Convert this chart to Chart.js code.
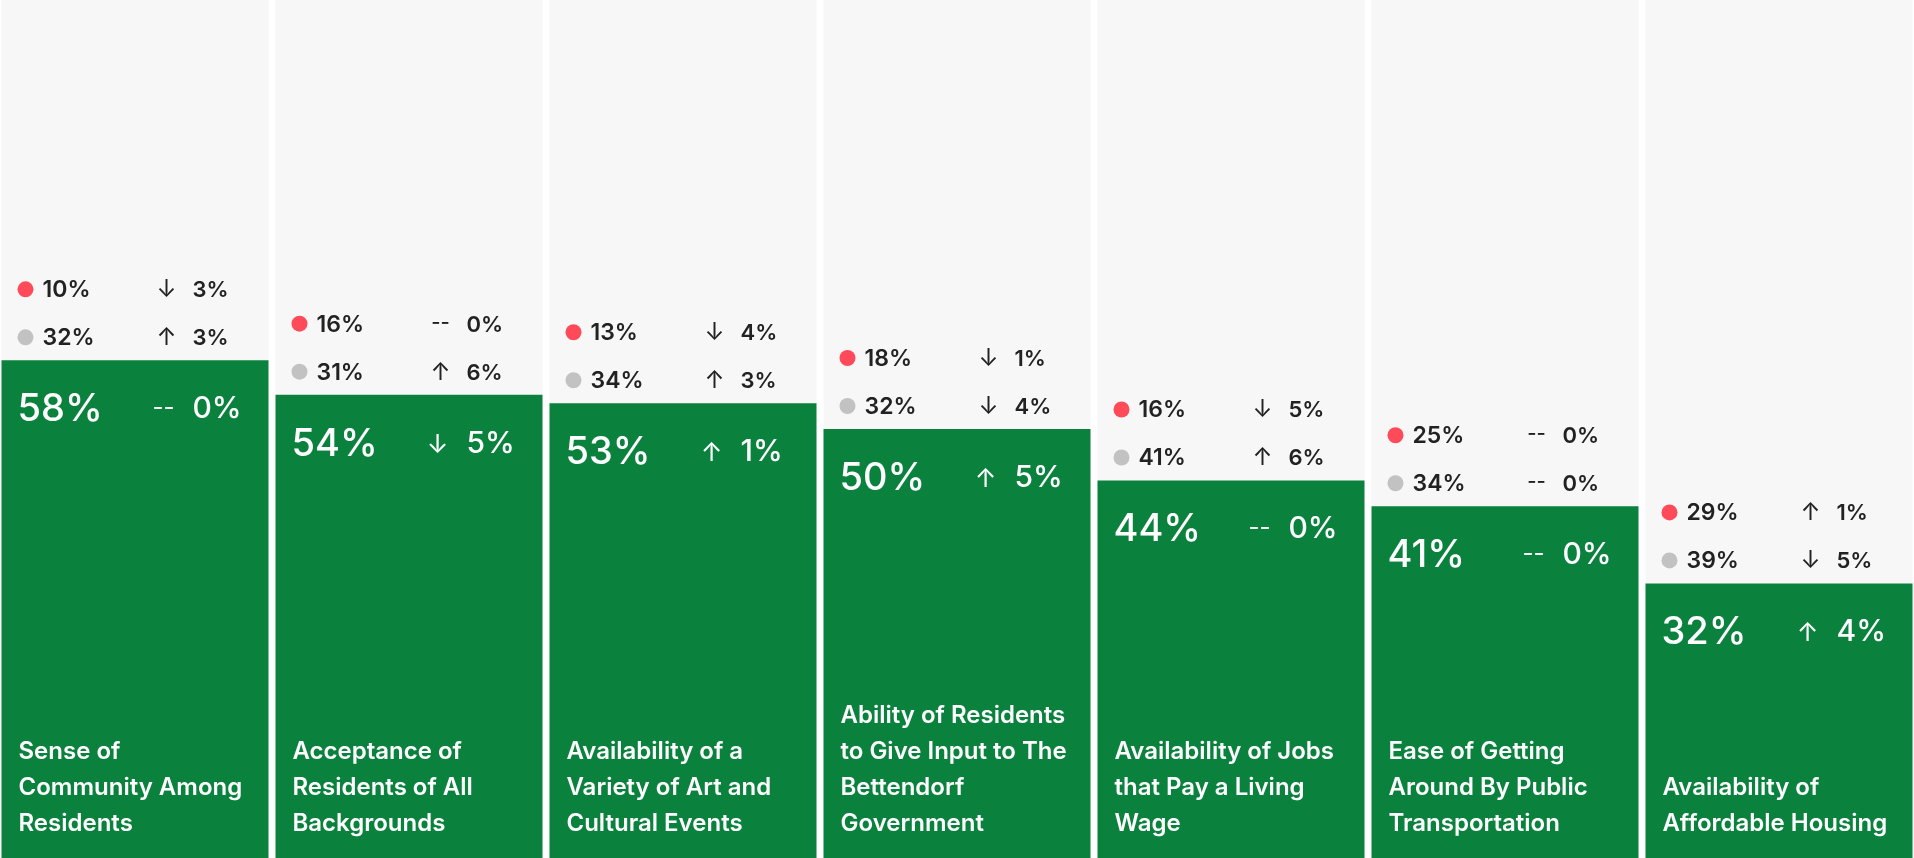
<!DOCTYPE html>
<html>
<head>
<meta charset="utf-8">
<script src="https://cdn.jsdelivr.net/npm/chart.js@4"></script>
<style>
  html, body { margin: 0; padding: 0; background: #fff; overflow: hidden; }
  #wrap { position: absolute; left: -2px; top: 0; width: 1918px; height: 858px; }
</style>
</head>
<body>
<div id="wrap"><canvas id="chart"></canvas></div>
<script>
const categories = [
  ["Sense of", "Community Among", "Residents"],
  ["Acceptance of", "Residents of All", "Backgrounds"],
  ["Availability of a", "Variety of Art and", "Cultural Events"],
  ["Ability of Residents", "to Give Input to The", "Bettendorf", "Government"],
  ["Availability of Jobs", "that Pay a Living", "Wage"],
  ["Ease of Getting", "Around By Public", "Transportation"],
  ["Availability of", "Affordable Housing"]
];

// positive share (green bar) and its change
const positive = [58, 54, 53, 50, 44, 41, 32];
const positiveChange = [0, -5, 1, 5, 0, 0, 4];

// negative share (red dot) and its change
const negative = [10, 16, 13, 18, 16, 25, 29];
const negativeChange = [-3, 0, -4, -1, -5, 0, 1];

// neutral share (grey dot) and its change
const neutral = [32, 31, 34, 32, 41, 34, 39];
const neutralChange = [3, 6, 3, -4, 6, 0, -5];

const yMax = 100;

const GREEN = "#0a823e";
const COLUMN = "#f7f7f7";
const RED = "#ff4b59";
const GREY = "#c2c2c2";
const INK = "#222222";
const FONT = "Inter, 'Noto Sans', sans-serif";

function deltaParts(d) {
  const sym = d > 0 ? "\u2191" : d < 0 ? "\u2193" : "--";
  return { sym, text: Math.abs(d) + "%" };
}

const cardText = {
  id: "cardText",
  afterDatasetsDraw(chart) {
    const ctx = chart.ctx;
    const meta = chart.getDatasetMeta(0);
    const bottom = chart.chartArea.bottom;
    ctx.save();
    meta.data.forEach((bar, i) => {
      const left = bar.x - bar.width / 2;
      const top = bar.y;

      // red and grey rows above the bar
      const rows = [
        { y: top - 71, color: RED, value: negative[i], change: negativeChange[i] },
        { y: top - 23, color: GREY, value: neutral[i], change: neutralChange[i] }
      ];
      rows.forEach(r => {
        ctx.fillStyle = r.color;
        ctx.beginPath();
        ctx.arc(left + 24, r.y, 8, 0, Math.PI * 2);
        ctx.fill();

        ctx.fillStyle = INK;
        ctx.textBaseline = "alphabetic";
        ctx.font = "600 23px " + FONT;
        ctx.textAlign = "left";
        ctx.fillText(r.value + "%", left + 41, r.y + 8);

        const d = deltaParts(r.change);
        ctx.textAlign = "center";
        ctx.font = (d.sym === "--" ? "500 20px " : "400 24px ") + FONT;
        ctx.fillText(d.sym, left + 165, r.y + (d.sym === "--" ? 5 : 8));
        ctx.textAlign = "left";
        ctx.font = "600 22px " + FONT;
        ctx.fillText(d.text, left + 191, r.y + 8);
      });

      // big value inside the bar
      ctx.fillStyle = "#ffffff";
      ctx.textAlign = "left";
      ctx.font = "500 38px " + FONT;
      ctx.fillText(positive[i] + "%", left + 16, top + 61);

      const d = deltaParts(positiveChange[i]);
      ctx.textAlign = "center";
      ctx.font = (d.sym === "--" ? "400 24px " : "400 26px ") + FONT;
      ctx.fillText(d.sym, left + 162, top + (d.sym === "--" ? 55 : 58));
      ctx.textAlign = "left";
      ctx.font = "500 30px " + FONT;
      ctx.fillText(d.text, left + 191, top + 58);

      // category label, bottom aligned
      ctx.font = "600 24px " + FONT;
      const lines = categories[i];
      lines.forEach((line, k) => {
        const y = bottom - 27 - (lines.length - 1 - k) * 36;
        ctx.fillText(line, left + 17, y);
      });
    });
    ctx.restore();
  }
};

new Chart(document.getElementById("chart"), {
  type: "bar",
  data: {
    labels: categories,
    datasets: [
      {
        label: "Positive",
        data: positive,
        backgroundColor: GREEN,
        borderWidth: 0,
        barPercentage: 0.9745,
        categoryPercentage: 1
      },
      {
        label: "Column",
        data: categories.map(() => yMax),
        backgroundColor: COLUMN,
        borderWidth: 0,
        barPercentage: 0.9745,
        categoryPercentage: 1
      }
    ]
  },
  options: {
    responsive: true,
    maintainAspectRatio: false,
    animation: false,
    layout: { padding: 0 },
    plugins: {
      legend: { display: false },
      tooltip: { enabled: false }
    },
    scales: {
      x: { stacked: true, display: false },
      y: { stacked: false, display: false, min: 0, max: yMax }
    }
  },
  plugins: [cardText]
});
</script>
</body>
</html>
